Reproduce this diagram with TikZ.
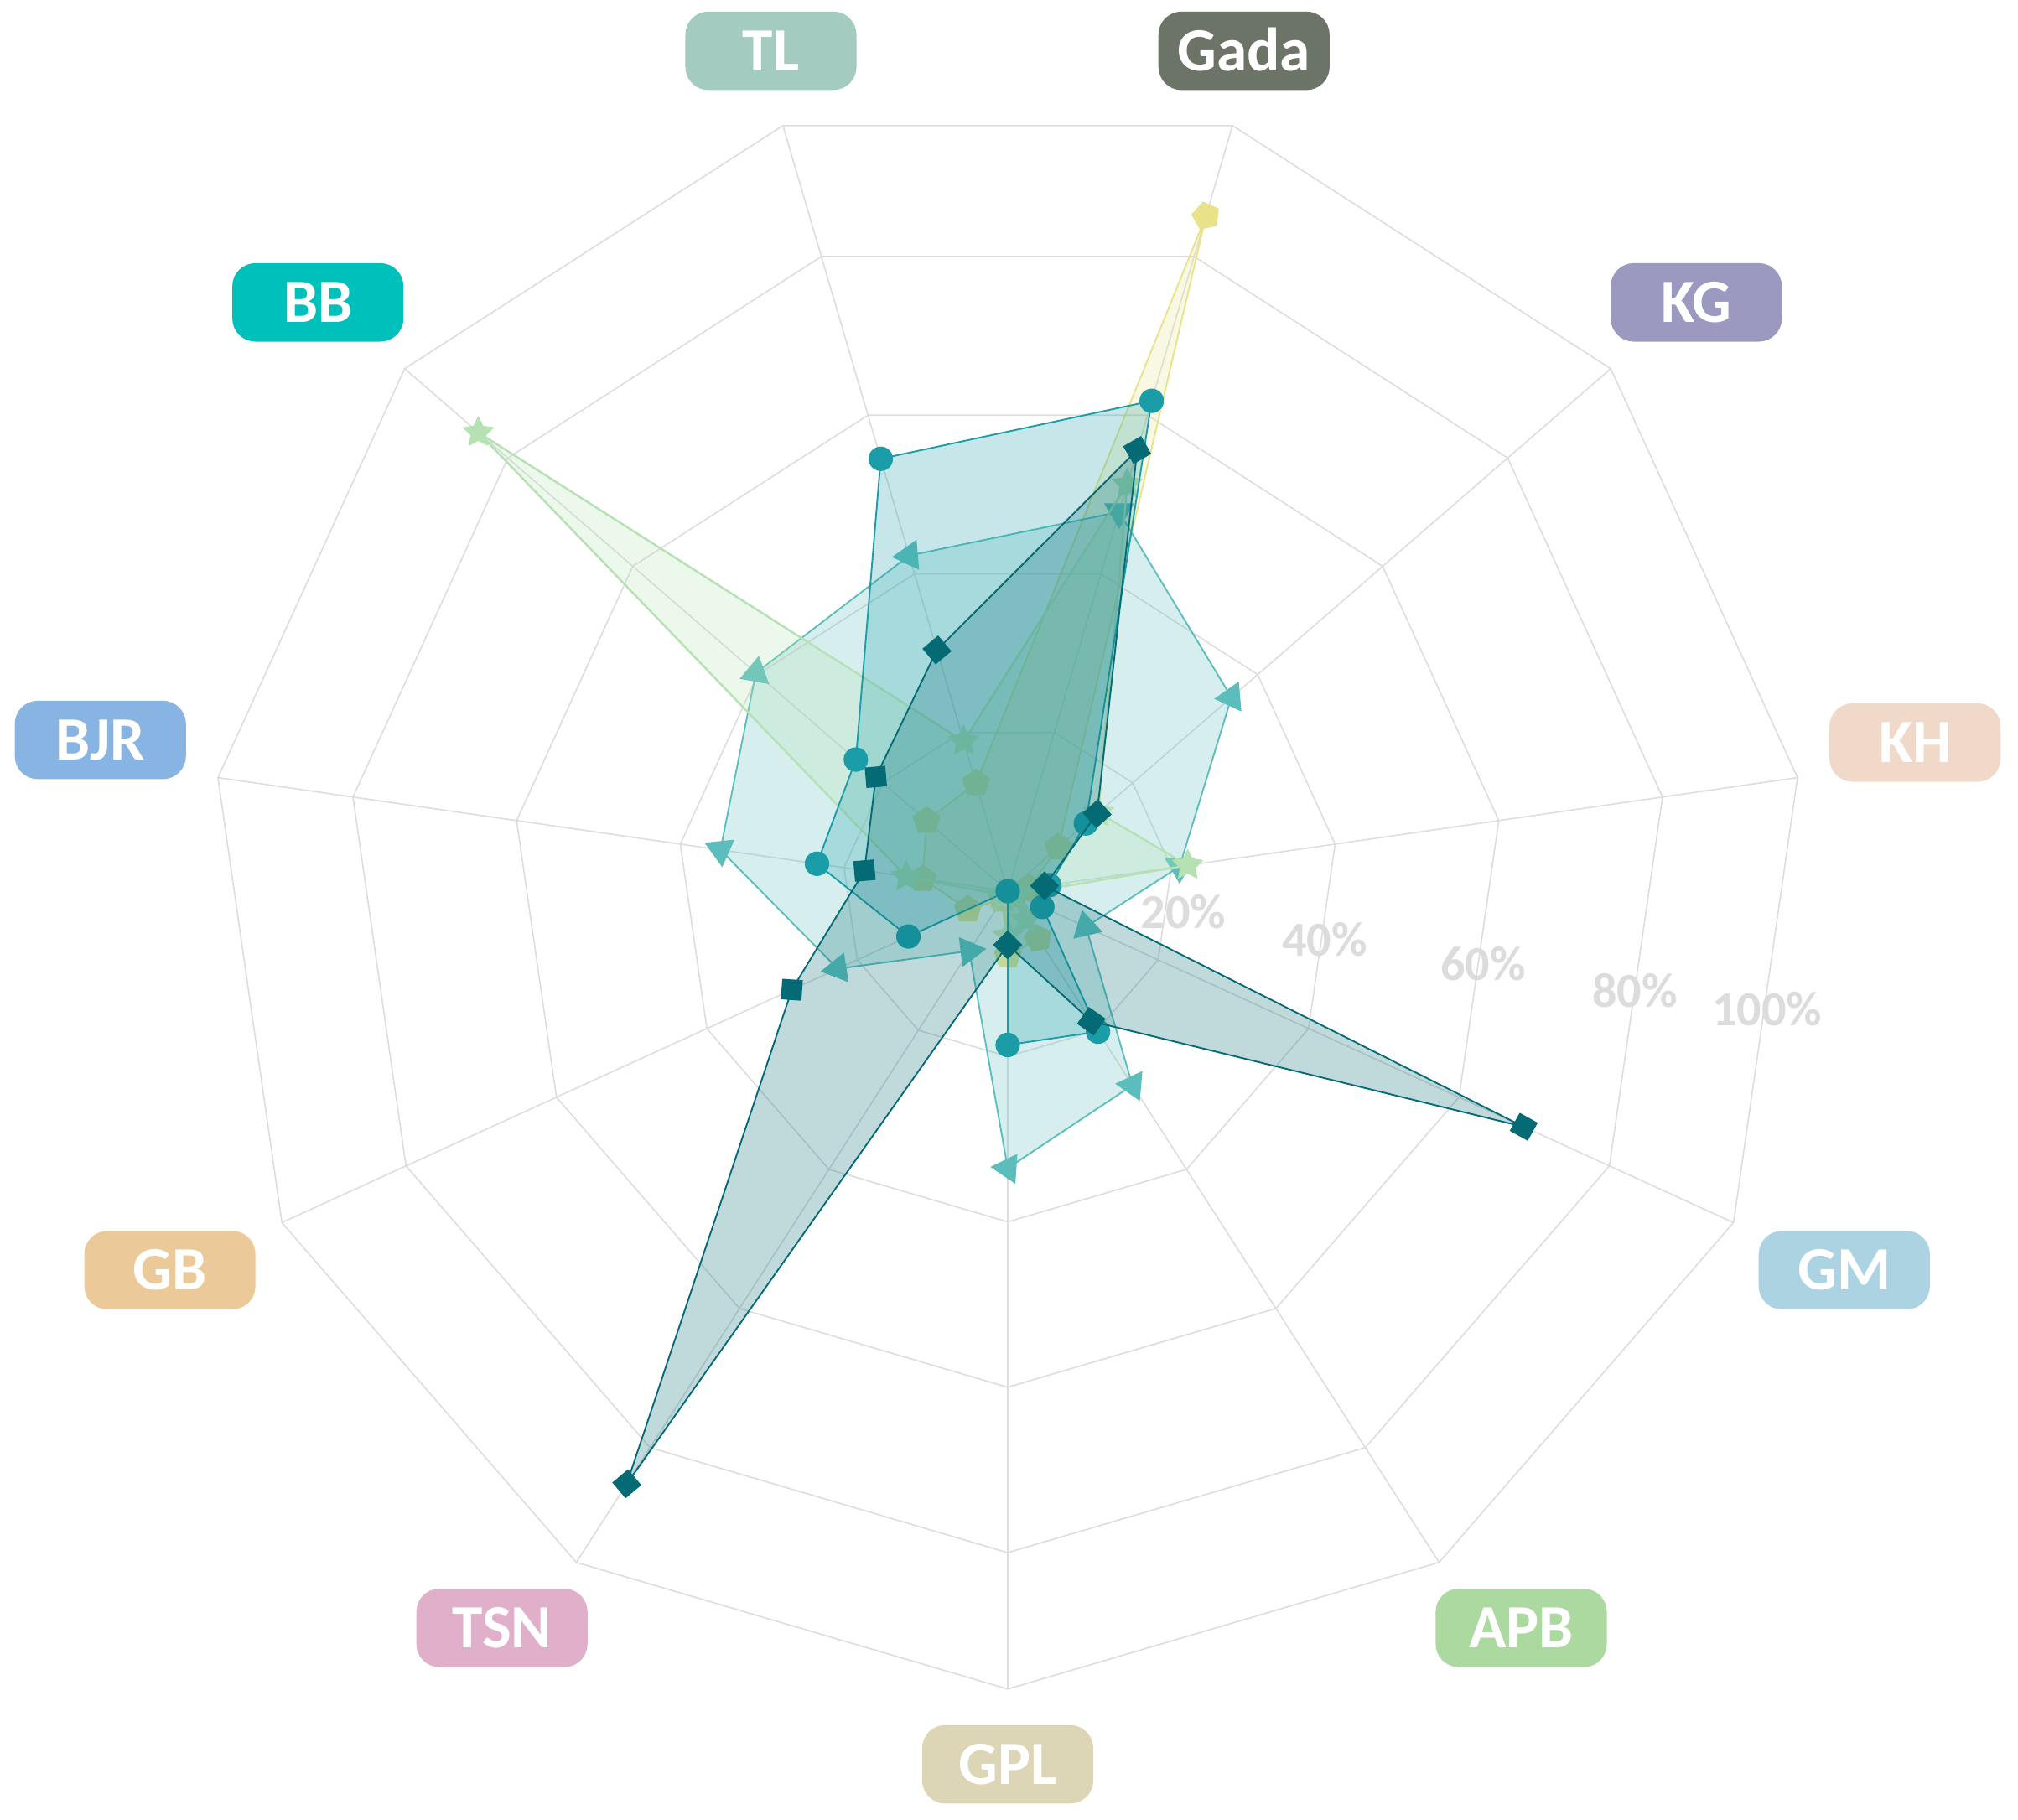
\documentclass[tikz,border=0pt]{standalone}
\usepackage{fontspec}
\setmainfont{Carlito}
\usepackage{tikz}
\usetikzlibrary{shapes.geometric}

% series colours
\definecolor{gridgray}{HTML}{DDDDDD}
\definecolor{pctgray}{HTML}{DCDCDC}
\definecolor{cpent}{HTML}{E8E38A}
\definecolor{cstar}{HTML}{B6E2B3}
\definecolor{ctri}{HTML}{5CBEBC}
\definecolor{ccirc}{HTML}{1B9DA8}
\definecolor{cdark}{HTML}{046A74}
% label colours
\definecolor{colGada}{HTML}{6C7468}
\definecolor{colKG}{HTML}{9B99BF}
\definecolor{colKH}{HTML}{F0D9C9}
\definecolor{colGM}{HTML}{ACD3E1}
\definecolor{colAPB}{HTML}{ACD9A0}
\definecolor{colGPL}{HTML}{DDD6B6}
\definecolor{colTSN}{HTML}{E0AFC9}
\definecolor{colGB}{HTML}{ECC998}
\definecolor{colBJR}{HTML}{87B4E3}
\definecolor{colBB}{HTML}{00C0BB}
\definecolor{colTL}{HTML}{A3CBBF}

\newcommand{\startang}{73.636}
\newcommand{\angstep}{32.7273}
\newcommand{\unitr}{0.06425}

% values in percent, order Gada, KG, KH, GM, APB, GPL, TSN, GB, BJR, BB, TL
\def\dataA{85.1,8.1,2.6,1.0,6.8,7.8,1.2,5.3,10.4,13.0,13.6}
\def\dataB{51.3,14.5,22.0,1.0,4.1,5.4,1.0,1.0,12.4,84.7,18.9}
\def\dataE{47.8,35.8,21.0,10.4,27.9,33.5,8.6,22.6,35.1,40.3,42.3}
\def\dataC{61.8,12.5,5.1,4.6,20.2,18.6,0,13.2,23.3,24.3,54.5}
\def\dataD{55.6,14.3,4.5,68.6,18.7,6.5,85.2,28.7,17.5,21.1,30.4}

\begin{document}
\begin{tikzpicture}[
    gridline/.style={draw=gridgray, line width=0.3pt},
    series/.style={draw=#1, fill=#1, fill opacity=0.25, line width=0.35pt, line join=round},
    pentmark/.style={regular polygon, regular polygon sides=5, fill=cpent, inner sep=0pt, minimum size=0.23cm},
    starmark/.style={star, star points=5, star point ratio=2, fill=cstar, inner sep=0pt, minimum size=0.26cm},
    trimark/.style={regular polygon, regular polygon sides=3, fill=ctri, inner sep=0pt, minimum size=0.27cm},
    circmark/.style={circle, fill=ccirc, inner sep=0pt, minimum size=0.19cm},
    sqmark/.style={rectangle, fill=cdark, inner sep=0pt, minimum size=0.16cm},
    axislabel/.style={fill=#1, rounded corners=0.18cm, minimum width=1.33cm, minimum height=0.61cm, inner sep=0pt,
        text=white, text height=0.31cm, text depth=0pt, font=\fontsize{13.6}{16}\selectfont\bfseries},
    pctlabel/.style={text=pctgray, inner sep=0pt, text height=0.24cm, text depth=0pt,
        font=\fontsize{10.8}{13}\selectfont\bfseries}]
    \useasboundingbox (-7.83,-7.212) rectangle (7.85,6.925);

    % Grid rings and spokes
    \foreach \r in {1.285,2.57,3.855,5.14,6.2}
        \draw[gridline] (\startang:\r) \foreach \i in {1,...,10} {-- ({\startang-\angstep*\i}:\r)} -- cycle;
    \foreach \i in {0,...,10}
        \draw[gridline] (0,0) -- ({\startang-\angstep*\i}:6.2);

    % Yellow series (pentagons)
    \foreach \v [count=\i from 0] in \dataA
        \coordinate (A\i) at ({\startang-\angstep*\i}:{\v*\unitr});
    \filldraw[series=cpent] (A0) \foreach \i in {1,...,10} {-- (A\i)} -- cycle;
    \foreach \i/\rt in {0/12,1/0,2/0,3/0,4/10,5/0,6/0,7/0,8/0,9/0,10/0}
        \node[pentmark, rotate=\rt] (pA\i) at (A\i) {};

    % Light teal series (triangles)
    \foreach \v [count=\i from 0] in \dataE
        \coordinate (E\i) at ({\startang-\angstep*\i}:{\v*\unitr});
    \filldraw[series=ctri] (E0) \foreach \i in {1,...,10} {-- (E\i)} -- cycle;
    \foreach \i/\rt in {0/60,1/95,2/60,3/13,4/85,5/86,6/-83,7/99,8/66,9/-10,10/95}
        \node[trimark, rotate=\rt] (pE\i) at (E\i) {};

    % Green series (stars)
    \foreach \v [count=\i from 0] in \dataB
        \coordinate (B\i) at ({\startang-\angstep*\i}:{\v*\unitr});
    \filldraw[series=cstar, line width=0.45pt] (B0) \foreach \i in {1,...,10} {-- (B\i)} -- cycle;
    \foreach \i in {0,...,10}
        \node[starmark] (pB\i) at (B\i) {};

    % Teal series (circles)
    \foreach \v [count=\i from 0] in \dataC
        \coordinate (C\i) at ({\startang-\angstep*\i}:{\v*\unitr});
    \filldraw[series=ccirc] (C0) \foreach \i in {1,...,10} {-- (C\i)} -- cycle;
    \foreach \i in {0,...,10}
        \node[circmark] (pC\i) at (C\i) {};

    % Dark series (squares)
    \foreach \v [count=\i from 0] in \dataD
        \coordinate (D\i) at ({\startang-\angstep*\i}:{\v*\unitr});
    \filldraw[series=cdark] (D0) \foreach \i in {1,...,10} {-- (D\i)} -- cycle;
    \foreach \i/\rt in {0/30,1/42,2/45,3/61,4/55,5/45,6/40,7/-4,8/5,9/5,10/40}
        \node[sqmark, rotate=\rt] (pD\i) at (D\i) {};

    % Percent labels
    \foreach \p/\x/\y in {20/1.366/-0.168, 40/2.463/-0.385, 60/3.693/-0.573, 80/4.873/-0.783, 100/5.90/-0.925}
        \node[pctlabel] (pct\p) at (\x,\y) {\p\%};

    % Axis labels
    \foreach \name/\x/\y in {Gada/1.836/6.53, KG/5.35/4.575, KH/7.05/1.155, GM/6.50/-2.945,
            APB/3.99/-5.725, GPL/0/-6.785, TSN/-3.93/-5.725, GB/-6.51/-2.945,
            BJR/-7.05/1.175, BB/-5.36/4.575, TL/-1.84/6.53}
        \node[axislabel=col\name] (lab\name) at (\x,\y) {\name};
\end{tikzpicture}
\end{document}
